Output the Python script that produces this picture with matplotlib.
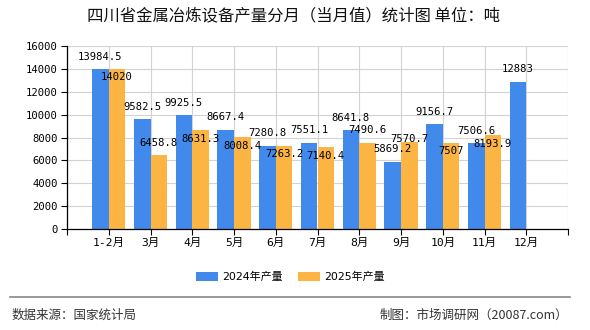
import matplotlib
matplotlib.use("Agg")
import matplotlib.pyplot as plt
import numpy as np

plt.rcParams['font.family'] = ['DejaVu Sans', 'Noto Sans CJK SC']

categories = ['1-2月', '3月', '4月', '5月', '6月', '7月', '8月', '9月', '10月', '11月', '12月']
prod_2024 = [13984.5, 9582.5, 9925.5, 8667.4, 7280.8, 7551.1, 8641.8, 5869.2, 9156.7, 7506.6, 12883]
prod_2025 = [14020, 6458.8, 8631.3, 8008.4, 7263.2, 7140.4, 7490.6, 7570.7, 7507, 8193.9]
labels_2024 = ['13984.5', '9582.5', '9925.5', '8667.4', '7280.8', '7551.1', '8641.8', '5869.2', '9156.7', '7506.6', '12883']
labels_2025 = ['14020', '6458.8', '8631.3', '8008.4', '7263.2', '7140.4', '7490.6', '7570.7', '7507', '8193.9']
series_names = ['2024年产量', '2025年产量']
yticks = [0, 2000, 4000, 6000, 8000, 10000, 12000, 14000, 16000]

# label vertical offsets (pixels, negative = upward) mimicking overlap avoidance
dy_2024 = [-12.5] * len(prod_2024)
dy_2025 = [8, -12, 9, 8.6, 8, 8.7, -13, -3.5, 7.6, 8.7]

blue = '#4189EB'
orange = '#FCB443'

W, H = 590, 330
fig = plt.figure(figsize=(W / 100, H / 100), dpi=100)
ax = fig.add_axes([67 / W, 1 - 229 / H, (568 - 67) / W, (229 - 46) / H])

x = np.arange(len(categories))
bw = 0.4
b1 = ax.bar(x[:len(prod_2024)] - bw / 2, prod_2024, width=bw, color=blue, zorder=3, label=series_names[0])
b2 = ax.bar(x[:len(prod_2025)] + bw / 2, prod_2025, width=bw, color=orange, zorder=3, label=series_names[1])

mono = ['DejaVu Sans Mono', 'Noto Sans CJK SC']
for xi, v, lab, dy in zip(x, prod_2024, labels_2024, dy_2024):
    ax.annotate(lab, (xi - bw / 2, v), xytext=(0, -dy), textcoords='offset pixels',
                ha='center', va='center', fontsize=7.6, family=mono, color='black', zorder=5)
for xi, v, lab, dy in zip(x, prod_2025, labels_2025, dy_2025):
    ax.annotate(lab, (xi + bw / 2, v), xytext=(0, -dy), textcoords='offset pixels',
                ha='center', va='center', fontsize=7.6, family=mono, color='black', zorder=5)

ax.set_xlim(-1, len(categories))
ax.set_ylim(0, 16000)
ax.set_yticks(yticks)
ax.set_yticklabels([str(t) for t in yticks], family=mono, fontsize=7.6)
ax.set_xticks(np.arange(-1, len(categories) + 1))
ax.set_xticklabels([''] + categories + [''], family=mono, fontsize=8.2)
ax.tick_params(axis='both', length=4.5, width=0.8, color='black', pad=2)
ax.grid(True, color='#d3d3d3', linewidth=0.8, zorder=0)
for s in ['top', 'right']:
    ax.spines[s].set_visible(False)
for s in ['left', 'bottom']:
    ax.spines[s].set_color('black')
    ax.spines[s].set_linewidth(0.9)
    ax.spines[s].set_zorder(4)

fig.text(0.497, 1 - 16.5 / H, '四川省金属冶炼设备产量分月（当月值）统计图 单位：吨',
         ha='center', va='center', fontsize=11.8, family=['Noto Sans CJK SC'], color='#111111')

leg = fig.legend(handles=[b1, b2], labels=series_names, loc='center',
                 bbox_to_anchor=(0.492, 1 - 277 / H), ncol=2, frameon=False,
                 handlelength=2.0, handleheight=0.8, handletextpad=0.35,
                 columnspacing=1.4, prop={'family': ['DejaVu Sans', 'Noto Sans CJK SC'], 'size': 7.9})

fig.add_artist(plt.Line2D([10 / W, 570 / W], [1 - 297 / H, 1 - 297 / H], color='#888888', linewidth=1.2))
fig.text(12 / W, 1 - 315 / H, '数据来源：国家统计局', ha='left', va='center', fontsize=9,
         family=['Noto Sans CJK SC'], color='#333333')
fig.text(568 / W, 1 - 315 / H, '制图：市场调研网（20087.com）', ha='right', va='center', fontsize=9,
         family=['Noto Sans CJK SC'], color='#333333')

fig.savefig('out.png', dpi=100)
